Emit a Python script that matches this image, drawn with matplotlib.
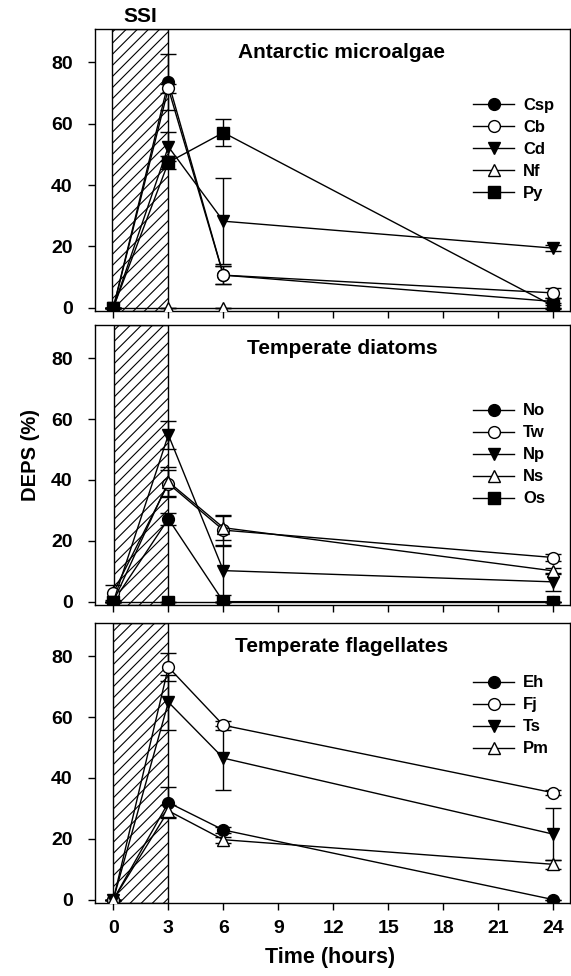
import matplotlib
matplotlib.use('Agg')
import matplotlib.pyplot as plt
import numpy as np

plt.rcParams['font.family'] = ['Liberation Sans', 'DejaVu Sans']
plt.rcParams['font.weight'] = 'bold'
plt.rcParams['hatch.linewidth'] = 0.8

# tiempos de muestreo (horas)
time = [0, 3, 6, 24]

# Panel 1: Antarctic microalgae
ant_names = ['Csp', 'Cb', 'Cd', 'Nf', 'Py']
ant_vals = [[0, 73.6, 10.6, 2.0],
            [0, 71.5, 10.6, 4.8],
            [0, 52.5, 28.2, 19.4],
            [0, 0, 0, 0],
            [0, 47.4, 57.1, 0.5]]
ant_err = [[0, 9.0, 3.0, 1.0],
           [0, 1.5, 3.0, 1.5],
           [0, 4.8, 14.0, 1.0],
           [0, 0, 0, 0],
           [0, 2.2, 4.4, 1.0]]

# Panel 2: Temperate diatoms
dia_names = ['No', 'Tw', 'Np', 'Ns', 'Os']
dia_vals = [[0, 27.2, 0, 0],
            [3.0, 38.8, 23.5, 14.5],
            [0, 54.8, 10.2, 6.5],
            [0, 39.4, 24.3, 10.1],
            [0, 0, 0, 0]]
dia_err = [[0, 2.0, 0, 0],
           [2.6, 4.5, 4.9, 1.0],
           [0, 4.7, 8.0, 3.0],
           [0, 4.8, 4.0, 1.0],
           [0, 0, 0, 0]]

# Panel 3: Temperate flagellates
fla_names = ['Eh', 'Fj', 'Ts', 'Pm']
fla_vals = [[0, 31.9, 22.9, 0],
            [0, 76.4, 57.3, 35.1],
            [0, 64.9, 46.5, 21.5],
            [0, 29.2, 19.7, 11.6]]
fla_err = [[0, 5.0, 1.0, 0],
           [0, 4.7, 1.5, 0.8],
           [0, 9.0, 10.5, 8.5],
           [0, 2.0, 1.0, 1.5]]

styles = [('o', 'black'), ('o', 'white'), ('v', 'black'), ('^', 'white'), ('s', 'black')]

W, H = 571, 976
fig = plt.figure(figsize=(W / 100, H / 100), dpi=100)

left, right = 95, 570
panels = [(29, 311, 'Antarctic microalgae', ant_names, ant_vals, ant_err, 0.757, -0.1),
          (325, 605, 'Temperate diatoms', dia_names, dia_vals, dia_err, 0.72, 0.05),
          (623, 903, 'Temperate flagellates', fla_names, fla_vals, fla_err, 0.813, 0.0)]

axes = []
for i, (top, bot, title, names, vals, errs, leg_y, ssi0) in enumerate(panels):
    ax = fig.add_axes([left / W, 1 - bot / H, (right - left) / W, (bot - top) / H])
    axes.append(ax)
    # zona SSI rayada
    ax.axvspan(ssi0, 3, facecolor='white', edgecolor='black', hatch='///', lw=1.0, zorder=1)
    for k, name in enumerate(names):
        m, fc = styles[k]
        ax.errorbar(time, vals[k], yerr=errs[k], color='black', lw=1.0, marker=m,
                    markersize=8.5 if m == 'o' else 9, markerfacecolor=fc,
                    markeredgecolor='black', markeredgewidth=1.0,
                    capsize=6, elinewidth=1.0, capthick=1.0, label=name, zorder=3)
    ax.set_xlim(-1.0, 24.9)
    ax.set_ylim(-1.1, 90.9)
    ax.set_yticks([0, 20, 40, 60, 80])
    ax.set_xticks([0, 3, 6, 9, 12, 15, 18, 21, 24])
    ax.tick_params(direction='out', length=5, width=1, labelsize=14, top=False, right=False)
    ax.tick_params(axis='y', pad=11)
    ax.tick_params(axis='x', pad=7)
    for lab in ax.get_xticklabels() + ax.get_yticklabels():
        lab.set_fontweight('bold')
    if i < 2:
        ax.set_xticklabels([])
    ax.text(0.52, 0.915, title, transform=ax.transAxes, ha='center', va='center',
            fontsize=15, fontweight='bold')
    for s in ax.spines.values():
        s.set_linewidth(1.0)
    handles, labels = ax.get_legend_handles_labels()
    handles = [h[0] for h in handles]
    leg = ax.legend(handles, labels, loc='upper left', bbox_to_anchor=(0.796, leg_y),
                    frameon=False, borderpad=0, borderaxespad=0,
                    handlelength=2.46, handletextpad=0.54, labelspacing=0.42,
                    prop={'weight': 'bold', 'size': 12})

axes[0].text(1.45, 91.8, 'SSI', ha='center', va='bottom', fontsize=15, fontweight='bold',
             clip_on=False)

fig.text(30 / W, 1 - 455 / H, 'DEPS (%)', rotation=90, ha='center', va='center',
         fontsize=14.5, fontweight='bold')
fig.text(330 / W, 1 - 958 / H, 'Time (hours)', ha='center', va='center',
         fontsize=15.5, fontweight='bold')

fig.savefig('out.png', dpi=100)
